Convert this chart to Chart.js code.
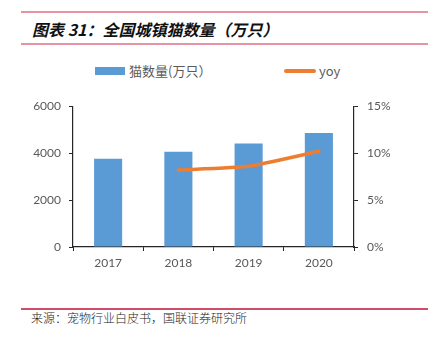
<!DOCTYPE html>
<html>
<head>
<meta charset="utf-8">
<script src="https://cdn.jsdelivr.net/npm/chart.js@4/dist/chart.umd.min.js"></script>
<style>
  body { margin: 0; width: 428px; height: 337px; background: #fff; position: relative; overflow: hidden; }
  .rule { position: absolute; left: 21px; right: 0; height: 2px; background: #e593a5; }
  .title { position: absolute; left: 32px; top: 18px; font: italic bold 16px "Noto Sans CJK SC", sans-serif; color: #111; line-height: 22px; }
  .legend { position: absolute; top: 62px; font: 13px "Noto Sans CJK SC", sans-serif; color: #595959; line-height: 18px; }
  .swatch { position: absolute; }
  .source { position: absolute; left: 31px; top: 310px; font: 300 12px "Noto Sans CJK SC", sans-serif; color: #222; line-height: 16px; }
  #wrap { position: absolute; left: 0; top: 90px; width: 428px; height: 195px; }
</style>
</head>
<body>
<div class="rule" style="top:11px"></div>
<div class="title">图表 31：全国城镇猫数量（万只）</div>
<div class="rule" style="top:43px"></div>

<div class="swatch" style="left:95px; top:67px; width:30px; height:8px; background:#5b9bd5"></div>
<div class="legend" style="left:129px">猫数量(万只）</div>
<div class="swatch" style="left:284px; top:69px; width:32px; height:3.5px; border-radius:2px; background:#ed7d31"></div>
<div class="legend" style="left:319px">yoy</div>

<div id="wrap"><canvas id="c"></canvas></div>

<div class="rule" style="top:308px; background:#cf4d68; height:1.5px"></div>
<div class="source">来源：宠物行业白皮书，国联证券研究所</div>

<script>
const years = ['2017', '2018', '2019', '2020'];
const cats = [3756, 4064, 4412, 4862];
const yoy = [null, 8.2, 8.6, 10.2];
const leftTicks = [0, 2000, 4000, 6000];
const rightTicks = [0, 5, 10, 15];

const axisColor = '#262626';
const textColor = '#595959';
const tickFont = { family: 'Lato', size: 12 };

new Chart(document.getElementById('c'), {
    type: 'bar',
    data: {
        labels: years,
        datasets: [
            { type: 'line', label: 'yoy', data: yoy, yAxisID: 'y1', borderColor: '#ed7d31', borderWidth: 3.5,
              pointRadius: 0, tension: 0.15, borderCapStyle: 'round', order: 0 },
            { label: '猫数量(万只）', data: cats, yAxisID: 'y', backgroundColor: '#5b9bd5',
              barPercentage: 0.4, categoryPercentage: 1, order: 1 }
        ]
    },
    options: {
        responsive: true,
        maintainAspectRatio: false,
        animation: false,
        layout: { padding: { top: 16, left: 0, right: 0, bottom: 0 } },
        plugins: { legend: { display: false }, tooltip: { enabled: false } },
        scales: {
            x: {
                grid: { display: true, drawOnChartArea: false, color: axisColor, tickLength: 4, offset: true },
                border: { color: axisColor, width: 1.2 },
                ticks: { color: textColor, font: tickFont, padding: 5 },
                afterFit: s => { s.height = 38; }
            },
            y: {
                position: 'left', min: 0, max: 6000,
                afterBuildTicks: s => { s.ticks = leftTicks.map(v => ({ value: v })); },
                grid: { display: true, drawOnChartArea: false, color: axisColor, tickLength: 4 },
                border: { color: axisColor, width: 1.2 },
                ticks: { color: textColor, font: tickFont, padding: 8, callback: v => String(v) },
                afterFit: s => { s.width = 73; }
            },
            y1: {
                position: 'right', min: 0, max: 15,
                afterBuildTicks: s => { s.ticks = rightTicks.map(v => ({ value: v })); },
                grid: { display: true, drawOnChartArea: false, color: axisColor, tickLength: 4 },
                border: { color: axisColor, width: 1.2 },
                ticks: { color: textColor, font: tickFont, padding: 9, callback: v => v + '%' },
                afterFit: s => { s.width = 74; }
            }
        }
    }
});
</script>
</body>
</html>
